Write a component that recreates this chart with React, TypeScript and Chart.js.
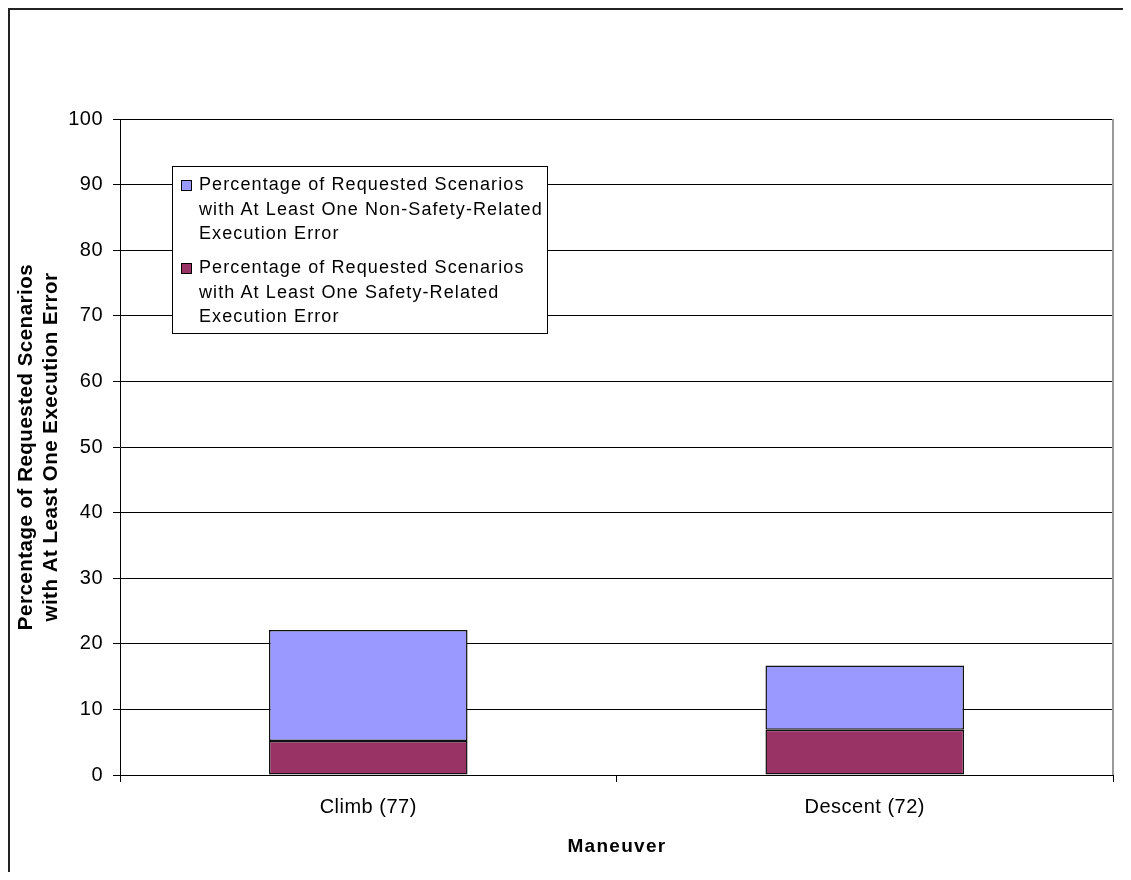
import React, { useEffect, useRef } from "react";
import { Chart, registerables } from "chart.js";

Chart.register(...registerables);

const categories = ["Climb (77)", "Descent (72)"];
const safetyRelated = [5.2, 6.9];
const nonSafetyRelated = [16.9, 9.8];
const seriesLabels = [
  "Percentage of Requested Scenarios with At Least One Non-Safety-Related Execution Error",
  "Percentage of Requested Scenarios with At Least One Safety-Related Execution Error",
];
const legendLines = [
  ["Percentage of Requested Scenarios", "with At Least One Non-Safety-Related", "Execution Error"],
  ["Percentage of Requested Scenarios", "with At Least One Safety-Related", "Execution Error"],
];
const yTitle = ["Percentage of Requested Scenarios", "with At Least One Execution Error"];
const xTitle = "Maneuver";

const BLUE = "#9999FF";
const MAROON = "#993366";
const FONT = "'Liberation Sans', Arial, sans-serif";

const spacing = {
  id: "spacing",
  beforeUpdate(chart: any) {
    chart.ctx.letterSpacing = "0.5px";
  },
  beforeDraw(chart: any) {
    chart.ctx.letterSpacing = "0.5px";
  },
};

const plotBorder = {
  id: "plotBorder",
  afterDraw(chart: any) {
    const { ctx, chartArea } = chart;
    ctx.save();
    ctx.strokeStyle = "#999";
    ctx.lineWidth = 2;
    ctx.beginPath();
    ctx.moveTo(chartArea.right, chartArea.top);
    ctx.lineTo(chartArea.right, chartArea.bottom);
    ctx.stroke();
    ctx.restore();
  },
};

export default function App() {
  const ref = useRef<HTMLCanvasElement>(null);
  useEffect(() => {
    const common = {
      borderColor: "#111",
      borderWidth: 1.5,
      borderSkipped: false,
      barPercentage: 0.4,
      categoryPercentage: 1,
    };
    const chart = new Chart(ref.current!, {
      type: "bar",
      data: {
        labels: categories,
        datasets: [
          { label: seriesLabels[1], data: safetyRelated, backgroundColor: MAROON, ...common },
          { label: seriesLabels[0], data: nonSafetyRelated, backgroundColor: BLUE, ...common },
        ],
      },
      options: {
        animation: false,
        responsive: false,
        maintainAspectRatio: false,
        layout: { padding: { top: 111, right: 18, left: 0, bottom: 0 } },
        plugins: { legend: { display: false }, tooltip: { enabled: false } },
        scales: {
          x: {
            stacked: true,
            offset: true,
            grid: { display: true, drawOnChartArea: false, drawTicks: true, tickLength: 7, color: "#000", offset: true },
            border: { display: true, color: "#000", width: 1 },
            ticks: { color: "#000", font: { family: FONT, size: 20 }, padding: 13 },
            afterFit(scale: any) {
              scale.height = 97;
            },
          },
          y: {
            stacked: true,
            min: 0,
            max: 100,
            ticks: { stepSize: 10, color: "#000", font: { family: FONT, size: 20 }, padding: 10 },
            grid: { color: "#000", tickLength: 7, drawTicks: true, lineWidth: 1 },
            border: { display: true, color: "#000", width: 1 },
            title: {
              display: true,
              text: yTitle,
              color: "#000",
              font: { family: FONT, size: 20.5, weight: "bold", lineHeight: 1.22 },
              padding: { top: 6, bottom: 0 },
            },
            afterFit(scale: any) {
              scale.width = 112;
            },
          },
        },
      },
      plugins: [spacing, plotBorder],
    });
    return () => chart.destroy();
  }, []);

  const entryTops = [5, 88];
  const colors = [BLUE, MAROON];
  return (
    <div style={{ position: "relative", width: 1123, height: 864, overflow: "hidden" }}>
      <canvas ref={ref} width={1123} height={864} style={{ position: "absolute", left: 0, top: 0, width: 1123, height: 864 }} />
      <div
        style={{
          position: "absolute",
          left: 0,
          top: 0,
          width: 1123,
          height: 864,
          borderTop: "2px solid #222",
          borderLeft: "2px solid #222",
          boxSizing: "border-box",
          pointerEvents: "none",
        }}
      />
      <div
        style={{
          position: "absolute",
          left: 0,
          width: 1218,
          top: 826,
          height: 24,
          lineHeight: "24px",
          textAlign: "center",
          fontFamily: FONT,
          fontSize: 19,
          fontWeight: "bold",
          letterSpacing: "1.3px",
          color: "#000",
        }}
      >
        {xTitle}
      </div>
      <div
        style={{
          position: "absolute",
          left: 164,
          top: 158,
          width: 376,
          height: 168,
          border: "1px solid #000",
          boxSizing: "border-box",
          background: "#fff",
          fontFamily: FONT,
          fontSize: 18,
          color: "#000",
        }}
      >
        {legendLines.map((lines, i) => (
          <div key={i}>
            <div
              style={{
                position: "absolute",
                left: 8,
                top: entryTops[i] + 8,
                width: 9,
                height: 9,
                background: colors[i],
                border: "1px solid #000",
              }}
            />
            <div
              style={{
                position: "absolute",
                left: 26,
                top: entryTops[i],
                lineHeight: "24.5px",
                letterSpacing: "1.1px",
                whiteSpace: "nowrap",
              }}
            >
              {lines.map((l, j) => (
                <div key={j}>{l}</div>
              ))}
            </div>
          </div>
        ))}
      </div>
    </div>
  );
}
